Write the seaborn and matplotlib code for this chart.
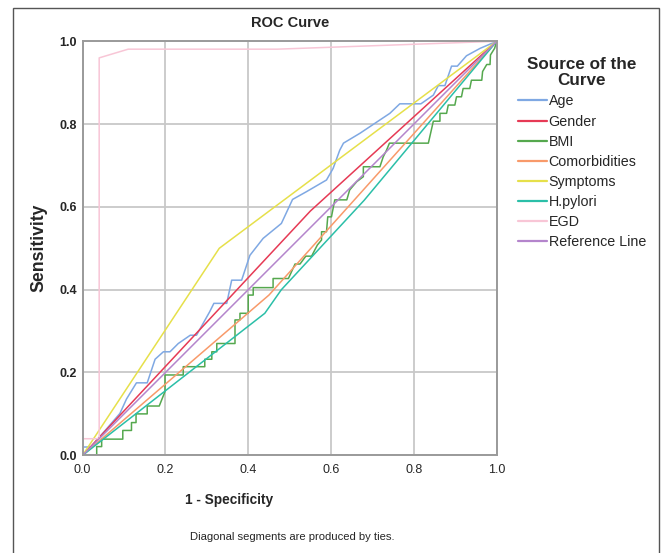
import pandas as pd
import seaborn as sns
import matplotlib
matplotlib.use('Agg')
from matplotlib import pyplot as plt
from matplotlib.patches import Rectangle

# ROC points (1 - specificity, sensitivity)
age_fpr = [0, 0, 0.02, 0.09, 0.106, 0.13, 0.156, 0.175, 0.195, 0.211, 0.231, 0.26, 0.275,
           0.307, 0.317, 0.348, 0.36, 0.384, 0.404, 0.436, 0.48, 0.507, 0.541, 0.589,
           0.605, 0.621, 0.63, 0.67, 0.742, 0.766, 0.817, 0.847, 0.859, 0.875, 0.891,
           0.905, 0.927, 0.96, 1.0]
age_tpr = [0, 0.02, 0.02, 0.101, 0.136, 0.175, 0.175, 0.232, 0.25, 0.25, 0.27, 0.29, 0.29,
           0.347, 0.367, 0.367, 0.423, 0.423, 0.483, 0.524, 0.56, 0.618, 0.637, 0.665,
           0.693, 0.737, 0.754, 0.778, 0.826, 0.849, 0.849, 0.87, 0.893, 0.893, 0.94,
           0.94, 0.965, 0.983, 1.0]

gender_fpr = [0, 0.55, 1.0]
gender_tpr = [0, 0.59, 1.0]

bmi_fpr = [0, 0.034, 0.034, 0.046, 0.046, 0.097, 0.097, 0.118, 0.118, 0.129, 0.129, 0.156,
           0.156, 0.185, 0.199, 0.199, 0.243, 0.243, 0.295, 0.295, 0.312, 0.312, 0.324,
           0.324, 0.368, 0.368, 0.38, 0.38, 0.40, 0.40, 0.412, 0.412, 0.46, 0.46, 0.497,
           0.513, 0.525, 0.539, 0.553, 0.567, 0.577, 0.577, 0.589, 0.592, 0.601, 0.609,
           0.638, 0.645, 0.662, 0.678, 0.678, 0.718, 0.726, 0.734, 0.741, 0.835, 0.847,
           0.863, 0.863, 0.879, 0.883, 0.899, 0.903, 0.915, 0.919, 0.935, 0.939, 0.964,
           0.966, 0.976, 0.984, 0.985, 0.995, 1.0]
bmi_tpr = [0, 0, 0.021, 0.021, 0.039, 0.039, 0.06, 0.06, 0.079, 0.079, 0.1, 0.1,
           0.119, 0.119, 0.154, 0.194, 0.194, 0.214, 0.214, 0.232, 0.232, 0.25, 0.25,
           0.27, 0.27, 0.327, 0.327, 0.343, 0.343, 0.387, 0.387, 0.405, 0.405, 0.427, 0.427,
           0.462, 0.462, 0.481, 0.481, 0.508, 0.52, 0.54, 0.54, 0.576, 0.576, 0.617,
           0.617, 0.641, 0.661, 0.673, 0.697, 0.697, 0.721, 0.737, 0.754, 0.754, 0.807,
           0.807, 0.826, 0.826, 0.846, 0.846, 0.866, 0.866, 0.886, 0.886, 0.906, 0.906,
           0.927, 0.944, 0.944, 0.967, 0.983, 1.0]

comorb_fpr = [0, 0.45, 1.0]
comorb_tpr = [0, 0.387, 1.0]

symptoms_fpr = [0, 0.33, 1.0]
symptoms_tpr = [0, 0.5, 1.0]

hpylori_fpr = [0, 0.44, 0.48, 0.68, 1.0]
hpylori_tpr = [0, 0.343, 0.40, 0.616, 1.0]

egd_fpr = [0, 0, 0.04, 0.04, 0.11, 0.47, 1.0]
egd_tpr = [0, 0.04, 0.04, 0.96, 0.981, 0.981, 1.0]

ref_fpr = [0, 1.0]
ref_tpr = [0, 1.0]

sources = ['Age', 'Gender', 'BMI', 'Comorbidities', 'Symptoms', 'H.pylori', 'EGD',
           'Reference Line']
colors = ['#7fa8e3', '#e63a55', '#55a84e', '#f89a6a', '#e6e04a', '#2bbfa8', '#f8c6d6',
          '#b485cc']

curves = [(age_fpr, age_tpr), (gender_fpr, gender_tpr), (bmi_fpr, bmi_tpr),
          (comorb_fpr, comorb_tpr), (symptoms_fpr, symptoms_tpr),
          (hpylori_fpr, hpylori_tpr), (egd_fpr, egd_tpr), (ref_fpr, ref_tpr)]

frames = []
for name, (fx, ty) in zip(sources, curves):
    frames.append(pd.DataFrame({'fpr': fx, 'tpr': ty, 'source': name}))
df = pd.concat(frames, ignore_index=True)

sns.set_style('white')
plt.rcParams['font.family'] = ['Liberation Sans', 'DejaVu Sans']

fig = plt.figure(figsize=(6.61, 5.53), dpi=100)
ax = fig.add_axes([0.125, 0.1767, 0.6264, 0.7486])

sns.lineplot(ax=ax, data=df, x='fpr', y='tpr', hue='source', hue_order=sources,
             palette=dict(zip(sources, colors)), estimator=None, sort=False,
             linewidth=1.1)

ax.set_xlim(0, 1)
ax.set_ylim(0, 1)
ax.set_xticks([0, 0.2, 0.4, 0.6, 0.8, 1.0])
ax.set_yticks([0, 0.2, 0.4, 0.6, 0.8, 1.0])
ax.set_xticklabels(['0.0', '0.2', '0.4', '0.6', '0.8', '1.0'], fontsize=9)
ax.set_yticklabels(['0.0', '0.2', '0.4', '0.6', '0.8', '1.0'], fontsize=9,
                   fontweight='bold')
ax.tick_params(axis='x', length=0, pad=6)
ax.tick_params(axis='y', length=0, pad=4)
ax.grid(True, color='#c8c8c8', linewidth=1.3)
for s in ax.spines.values():
    s.set_color('#9a9a9a')
    s.set_linewidth(1.4)

ax.set_xlabel('')
ax.set_ylabel('Sensitivity', fontsize=12.7, fontweight='bold')
ax.yaxis.set_label_coords(-0.085, 0.5)

fig.text(290 / 661, 1 - 23 / 553, 'ROC Curve', ha='center', va='center',
         fontsize=10.5, fontweight='bold')
fig.text(229 / 661, 1 - 500 / 553, '1 - Specificity', ha='center', va='center',
         fontsize=9.8, fontweight='bold')
fig.text(292 / 661, 1 - 537 / 553, 'Diagonal segments are produced by ties.',
         ha='center', va='center', fontsize=8.1)

sns.move_legend(ax, loc='upper left', bbox_to_anchor=(1.0515, 0.962), frameon=False,
                title='Source of the\nCurve', fontsize=10.3, borderpad=0,
                borderaxespad=0, handlelength=2.0, handletextpad=0.14,
                labelspacing=0.43)
leg = ax.get_legend()
leg.get_title().set_fontsize(12.3)
leg.get_title().set_fontweight('bold')
leg.get_title().set_multialignment('center')
leg.get_title().set_linespacing(1.1)
for line in leg.get_lines():
    line.set_linewidth(1.6)

# outer frame around the whole chart
fig.patches.append(Rectangle((13 / 661, -0.02), (659 - 13) / 661, 1 - 8 / 553 + 0.02,
                             transform=fig.transFigure, fill=False,
                             edgecolor='#555555', linewidth=1.0))

fig.savefig('out.png', dpi=100)
